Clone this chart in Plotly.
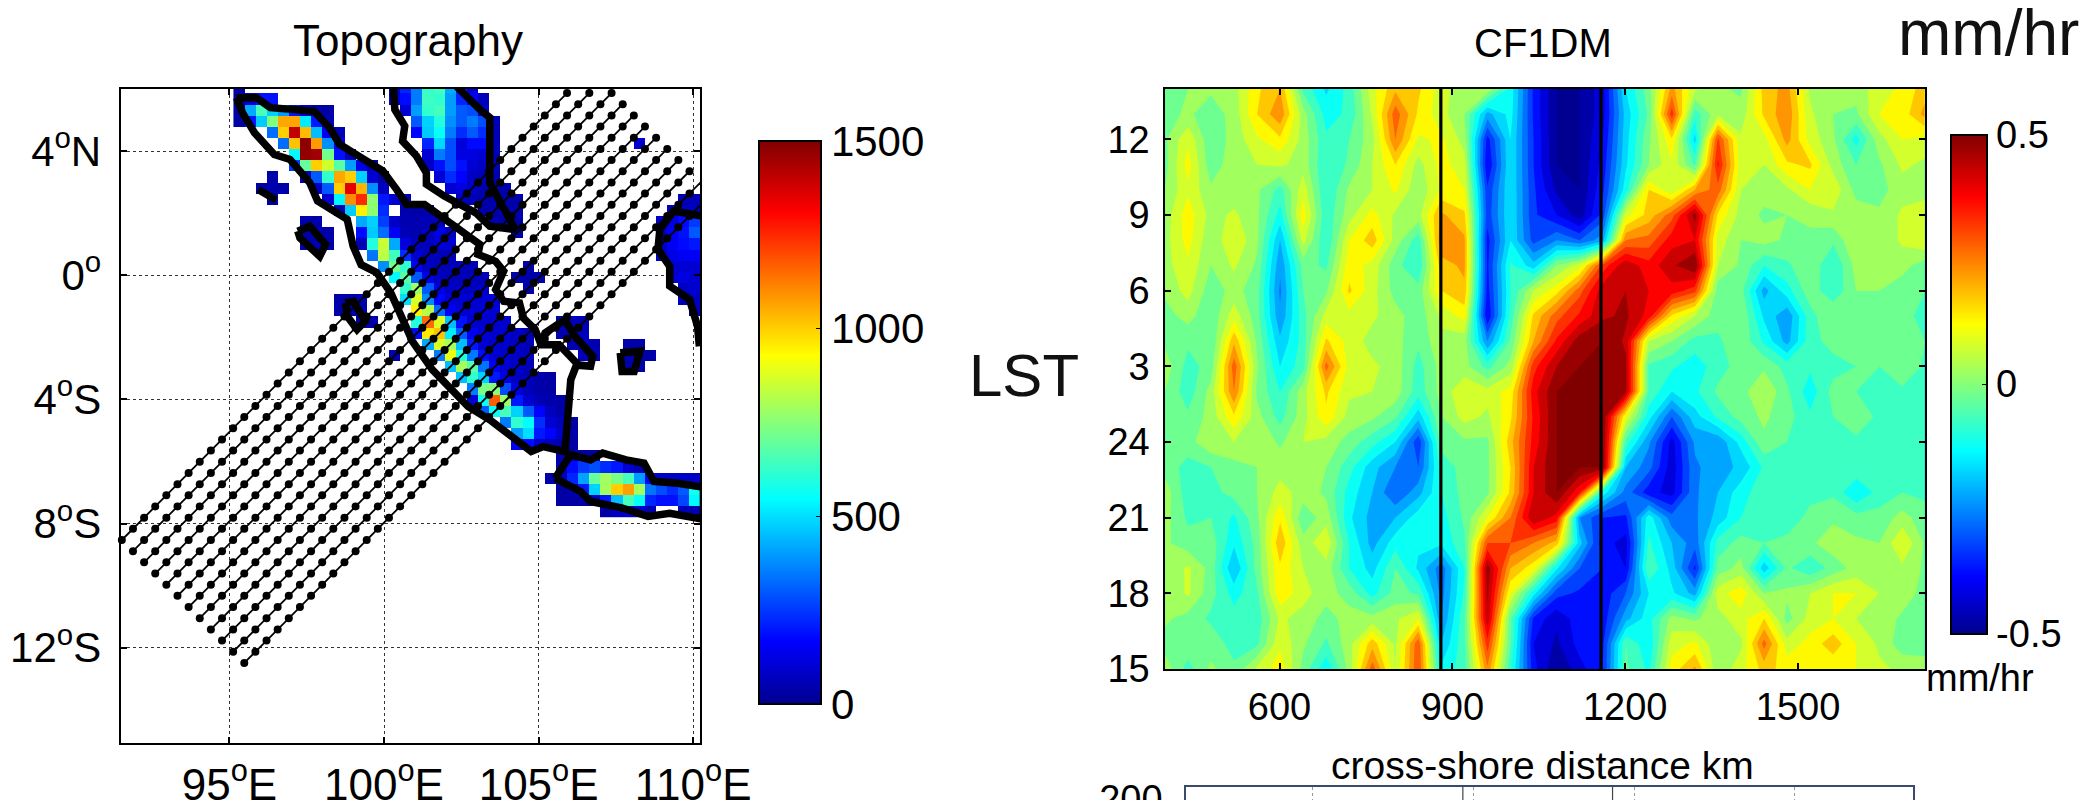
import plotly.graph_objects as go

W, H = 2091, 800
FONT = "Liberation Sans, Arial, sans-serif"

# ---------- Topography panel data ----------
TOPO_LON0, TOPO_LAT0, TOPO_STEP = 95.31, 5.68, 0.36
TOPO_NCOL, TOPO_NROW = 42, 39   # rows -1..37
# row index: list of (first column, values)  -- metres, read from colours
TOPO_CELLS = {
    -1: [(0, [30]), (14, [100, 220, 350, 620, 650, 420, 200, 100])],
    0: [(0, [30, 100, 190, 190]), (14, [100, 180, 350, 640, 620, 400, 220, 170, 60])],
    1: [(0, [30, 420, 650, 480, 400, 200, 100, 30, 30]), (15, [100, 400, 620, 650, 400, 300, 280, 100])],
    2: [(0, [30, 200, 470, 740, 1060, 1060, 520, 200, 60]), (16, [300, 480, 600, 380, 300, 350, 280, 60])],
    3: [(3, [330, 1000, 1400, 1030, 450, 150, 60]), (16, [170, 470, 560, 350, 230, 300, 230, 60])],
    4: [(4, [330, 1020, 1480, 1080, 380, 130]), (17, [220, 490, 280, 110, 180, 180, 60]), (36, [100])],
    5: [(5, [540, 1470, 1450, 720, 190, 60]), (17, [100, 350, 280, 120, 120, 100, 60])],
    6: [(5, [250, 700, 1000, 860, 680, 400, 130, 40]), (17, [80, 190, 280, 190, 100, 80, 60])],
    7: [(3, [40]), (6, [60, 300, 620, 1060, 1000, 480, 100, 30]), (18, [100, 230, 170, 80, 60, 40])],
    8: [(2, [40, 40, 40]), (7, [80, 300, 1000, 1350, 1040, 380, 70]), (19, [100, 120, 80, 50, 50, 40])],
    9: [(3, [40]), (8, [100, 540, 1100, 1250, 760, 200, 100, 50]), (20, [70, 60, 40, 40, 40, 40]), (40, [50, 60])],
    10: [(9, [50, 470, 950, 760, 230]), (15, [50, 40, 40]), (22, [40, 40, 40, 40]), (39, [60, 70, 80])],
    11: [(6, [40, 40]), (11, [420, 480, 260, 80, 50, 50, 60, 60]), (23, [50, 40, 40]), (38, [60, 120, 180, 250])],
    12: [(6, [40, 50, 40]), (11, [180, 470, 330, 150, 60, 50, 60, 130, 80]), (25, [30]), (38, [70, 150, 190, 300])],
    13: [(6, [40, 50, 40]), (11, [60, 600, 850, 420, 120, 60, 70, 100, 100]), (38, [60, 150, 180, 200])],
    14: [(12, [340, 830, 640, 230, 100, 60, 60, 60]), (38, [60, 130, 150, 150])],
    15: [(13, [380, 720, 620, 150, 70, 60, 60, 60, 60]), (26, [40]), (39, [100, 100, 100])],
    16: [(14, [540, 680, 300, 130, 70, 60, 60, 60, 60]), (25, [40, 40, 40]), (39, [100, 120, 100])],
    17: [(15, [620, 780, 300, 130, 80, 80, 80, 80]), (26, [40]), (40, [80, 100])],
    18: [(9, [40, 40, 40]), (15, [500, 870, 370, 170, 100, 100, 100, 100, 100]), (40, [60, 70])],
    19: [(9, [40, 40, 40]), (16, [950, 820, 320, 150, 100, 100, 100, 100]), (41, [60])],
    20: [(11, [40, 40]), (16, [600, 1150, 880, 450, 190, 90, 90, 90, 90]), (29, [50, 70, 50])],
    21: [(16, [180, 960, 1020, 520, 300, 150, 100, 90, 90, 80, 60]), (29, [50, 80, 60])],
    22: [(17, [420, 870, 800, 450, 200, 100, 90, 90, 80, 60]), (30, [50, 80, 50]), (35, [40, 40])],
    23: [(14, [40]), (18, [350, 900, 600, 350, 180, 100, 90, 80, 60]), (31, [60, 50]), (35, [40, 40, 40])],
    24: [(19, [450, 800, 680, 340, 150, 100, 80, 60]), (35, [40, 40])],
    25: [(20, [450, 620, 480, 200, 120, 80, 60, 40, 30])],
    26: [(21, [350, 730, 750, 280, 120, 60, 40, 30])],
    27: [(21, [100, 560, 1170, 780, 200, 100, 60, 40, 30])],
    28: [(22, [300, 560, 650, 480, 300, 170, 70, 40])],
    29: [(24, [350, 620, 550, 230, 100, 70, 30])],
    30: [(25, [400, 500, 200, 170, 90, 40])],
    31: [(25, [150, 180, 100, 60, 40, 30])],
    32: [(29, [40, 40, 30, 30])],
    33: [(29, [60, 180, 250, 280, 230, 200, 100, 60])],
    34: [(28, [40, 60, 220, 410, 700, 790, 730, 650, 400, 170, 90, 80, 80, 80])],
    35: [(29, [30, 60, 200, 480, 790, 1000, 1070, 790, 340, 280, 230, 300, 570])],
    36: [(29, [30, 30, 30, 70, 200, 450, 650, 560, 220, 190, 190, 270, 540])],
    37: [(33, [40, 80, 100, 100, 50]), (40, [60, 50])],
}

COASTS = {
    "Sumatra": (
        [95.23, 95.87, 96.32, 96.96, 97.73, 98.24, 98.56, 99.26, 99.96, 100.41, 100.73, 101.31, 101.82, 102.2, 102.72,
         103.10, 103.04, 103.61, 103.87, 103.61, 103.87, 104.38, 104.51, 104.89, 105.08, 105.66, 106.3, 106.68, 106.75, 106.17,
         105.85, 105.21, 105.08, 105.21, 105.85, 106.17, 106.75, 106.68, 106.23, 106.04, 105.98, 105.91, 105.85, 105.15, 104.76, 104.12,
         103.42, 102.72, 102.08, 101.56, 100.92, 100.54, 100.22, 99.77, 99.26, 99.00, 98.81, 97.85, 97.60, 96.96, 96.45, 95.81, 95.42, 95.23],
        [5.72, 5.72, 5.40, 5.34, 5.29, 4.75, 4.22, 3.79, 3.36, 2.76, 2.28, 2.28, 1.90, 1.63, 1.26,
         0.99, 0.67, 0.45, 0.13, -0.46, -0.84, -0.89, -1.38, -1.75, -2.24, -2.24, -2.9, -2.93, -2.61, -1.97,
         -1.43, -1.86, -2.24, -1.86, -1.43, -1.97, -2.61, -2.93, -2.88, -3.37, -4.12, -4.76, -5.68, -5.52, -5.68, -5.19,
         -4.66, -4.23, -3.58, -3.04, -2.13, -1.21, -0.57, 0.08, 0.34, 0.94, 1.80, 2.39, 2.98, 3.73, 3.89, 4.59, 5.24, 5.72],
    ),
    "Malay": (
        [100.3, 100.35, 100.67, 100.60, 101.05, 101.37, 101.37, 101.95, 102.97, 103.42, 104.25, 103.87, 103.42, 103.42, 103.1, 102.33],
        [6.1, 5.34, 4.81, 4.32, 3.84, 3.30, 2.93, 2.55, 2.01, 1.58, 1.47, 2.12, 2.98, 5.08, 5.34, 6.1],
    ),
    "Simeulue": ([95.93, 96.51, 95.93], [2.76, 2.42, 2.76]),
    "Nias": ([97.21, 97.60, 98.11, 97.92, 97.28, 97.21], [1.42, 1.58, 0.99, 0.61, 1.20, 1.42]),
    "Siberut": ([98.75, 99.01, 99.39, 99.13, 98.81, 98.75], [-0.89, -0.84, -1.48, -1.75, -1.32, -0.89]),
    "Belitung": ([107.64, 108.28, 108.09, 107.7, 107.64], [-2.5, -2.45, -3.1, -3.1, -2.5]),
    "Java": (
        [105.53, 106.04, 106.68, 107.07, 107.83, 108.41, 108.73, 109.5, 110.33, 110.33, 109.24, 108.54, 107.71, 106.68, 106.36, 105.53],
        [-6.54, -5.78, -5.95, -5.73, -5.95, -6.05, -6.64, -6.7, -6.83, -7.86, -7.67, -7.77, -7.5, -7.29, -6.97, -6.54],
    ),
    "Borneo": (
        [110.33, 109.37, 108.92, 108.86, 109.24, 109.24, 109.88, 110.14, 110.2],
        [1.9, 2.07, 1.47, 0.83, 0.29, -0.35, -0.78, -1.64, -2.29],
    ),
}

# cross-shore sample tracks: first point of each track, and number of dots in it
TRACK_START_LON = [91.52, 91.88, 92.24, 92.60, 92.96, 93.32, 93.68, 94.04, 94.40, 94.76, 95.12, 95.48]
TRACK_START_LAT = [-8.53, -8.89, -9.25, -9.61, -9.97, -10.33, -10.69, -11.05, -11.41, -11.77, -12.13, -12.49]
TRACK_DOTS = [41, 42, 43, 43, 43, 43, 43, 43, 43, 43, 43, 42]
TRACK_STEP = 0.36

LON_TICKS = [95, 100, 105, 110]
LON_LABELS = ["95<sup>o</sup>E", "100<sup>o</sup>E", "105<sup>o</sup>E", "110<sup>o</sup>E"]
LAT_TICKS = [-12, -8, -4, 0, 4]
LAT_LABELS = ["12<sup>o</sup>S", "8<sup>o</sup>S", "4<sup>o</sup>S", "0<sup>o</sup>", "4<sup>o</sup>N"]

# ---------- CF1DM panel data ----------
DIST_KM = [401, 441, 481, 521, 561, 601, 641, 681, 721, 761, 801, 841, 881, 921, 961, 1001, 1041,
           1081, 1121, 1161, 1201, 1241, 1281, 1321, 1361, 1401, 1441, 1481, 1521, 1561, 1601, 1641, 1681, 1721]
LST_HOURS = [38, 37, 36, 35, 34, 33, 32, 31, 30, 29, 28, 27, 26, 25, 24, 23, 22, 21, 20, 19, 18, 17, 16, 15]
# rain anomaly, hundredths of mm/hr; first row is the top of the panel
CF1DM_RAIN = [
    [-4, 0, 1, 3, 14, 20, -6, -16, -8, 8, 19, 16, 7, 2, 4, -12, -36, -50, -50, -42, -15, -2, 22, 6, 1, -1, 17, 22, 4, 1, 2, 8, 11, 18],
    [-2, 1, -3, 2, 15, 24, 2, -12, -9, 6, 28, 14, 7, 0, -22, -13, -36, -50, -50, -42, -18, -4, 33, -8, 4, 2, 16, 24, 6, 0, -1, 10, 12, 22],
    [-1, 9, -4, 2, 9, 14, 3, -9, -5, 3, 25, 9, 11, 3, -37, -15, -35, -50, -50, -40, -17, -1, 14, -17, 31, 6, 8, 22, 8, 1, -12, 3, 10, 8],
    [-2, 12, -3, 3, 5, 6, 3, -10, -4, 5, 15, 3, 12, 7, -40, -15, -35, -50, -50, -38, -16, 0, 9, -6, 36, 7, 5, 14, 16, 3, -5, -1, 6, 4],
    [0, 9, 1, 2, 1, -7, 8, -10, 1, 5, 11, 1, 11, 10, -34, -15, -34, -46, -50, -36, -12, 15, 6, 20, 28, 5, 2, 4, 10, 9, -2, -2, 3, 3],
    [2, 13, 3, 6, 1, -12, 13, -9, 3, 12, 4, 3, 21, 16, -33, -15, -34, -40, -48, -33, 8, 17, 28, 47, 14, 3, -1, 0, 1, 4, 3, 1, 6, 8],
    [3, 12, 1, 10, 1, -20, 7, -10, 10, 18, 3, -8, 24, 21, -37, -15, -32, -25, -30, -22, 25, 27, 38, 40, 8, 0, 2, -1, -1, -4, 5, 1, 6, 10],
    [3, 9, 0, 6, -1, -24, -3, -6, 13, 8, -3, -10, 18, 21, -36, -9, -18, 0, 8, 32, 44, 37, 44, 50, 5, -1, -10, -6, -1, -10, 2, 5, 2, -3],
    [1, 7, -3, 2, -3, -26, -5, -1, 16, 7, -2, -3, 15, 19, -37, -10, 5, 13, 28, 43, 45, 40, 38, 32, -3, -3, -22, -12, -2, -9, 0, 0, -3, -5],
    [-2, 2, -4, 8, -3, -24, -7, 7, 8, 6, 2, -3, 6, 12, -40, -8, 16, 28, 36, 44, 46, 38, 14, 5, -3, 0, -16, -24, -7, 0, -2, -4, -4, -6],
    [-1, -4, -5, 19, -1, -19, -8, 16, 8, 3, 2, -4, 4, 2, -25, -4, 20, 36, 48, 50, 44, 5, 0, -7, -6, -1, -11, -22, -7, -3, -5, -4, -5, -5],
    [3, -7, -3, 28, 1, -15, -7, 27, 8, 6, 3, -7, 2, 2, -7, 2, 33, 45, 50, 50, 46, -6, -9, -13, -7, -3, -1, -7, -9, -7, -5, -5, -1, -6],
    [0, -8, 2, 25, -1, -10, 3, 16, 6, 5, 3, -8, 2, 9, 7, 12, 38, 50, 50, 50, 46, -6, -15, -11, -4, -2, 5, -4, -13, -3, -5, -6, -6, -6],
    [-1, -4, 2, 14, 2, -7, 3, 14, 3, 1, -4, -18, 0, 7, 4, 14, 36, 50, 50, 50, 10, -13, -30, -17, -9, -3, 1, -3, -9, -5, -2, -6, -8, -6],
    [-2, -2, 4, 5, 4, -1, 5, 3, -2, -8, -15, -34, -3, -1, -1, 18, 37, 50, 50, 50, -7, -24, -42, -24, -24, -13, -1, -5, -6, -6, -6, -6, -10, -6],
    [-2, -7, -5, -2, 0, 3, 3, 0, -8, -18, -25, -30, -8, -3, -1, 15, 40, 50, 50, 50, -20, -28, -43, -26, -22, -19, -9, -7, -6, -6, -6, -6, -6, -6],
    [3, -8, -7, -3, 0, 7, 3, -1, -12, -20, -30, -22, -10, -3, -1, 16, 40, 50, 36, -12, -27, -38, -42, -26, -20, -12, -7, -7, -7, -6, -15, -8, -5, -6],
    [2, -6, -5, -11, -1, 14, -4, 3, -14, -22, -20, -12, -12, -4, 10, 25, 45, 38, -25, -35, -36, -12, -28, -26, -18, -10, -7, -9, -3, -1, -3, -3, 2, -3],
    [1, -3, -2, -14, -3, 19, 2, 9, -10, -22, -12, -14, -14, -6, 30, 30, 25, 18, -18, -38, -42, -9, -20, -28, -8, -3, -5, -3, -1, 3, 1, 0, 10, -1],
    [0, 6, -2, -20, -3, 14, 5, 3, -10, -17, -5, -16, -28, -10, 48, 20, 12, -14, -30, -35, -40, -5, -17, -36, -3, 2, -18, -4, -9, -3, 2, 4, 4, -1],
    [0, 6, -3, -12, -6, 14, 7, 2, -2, -12, -3, -6, -27, -9, 46, 10, -13, -33, -36, -38, -30, -15, -14, -22, 8, 13, 0, 1, 5, 10, 10, 5, 3, -2],
    [1, -2, -6, -8, -8, 6, 3, -2, 2, 2, 4, 10, -25, -6, 44, -4, -36, -44, -37, -38, -22, -12, 2, -1, 3, 8, 15, -2, 7, 10, 5, 3, -1, -4],
    [-2, -2, -2, -7, -6, 9, 1, -6, 3, 18, 4, 29, -20, -6, 33, -5, -40, -46, -38, -36, -5, -14, 8, 11, 1, 4, 27, 7, 12, 18, 10, 4, -3, -3],
    [3, -7, 1, -4, 6, 13, -2, -14, 2, 28, 5, 30, -14, -7, 24, -9, -38, -50, -42, -35, -4, -11, 12, 21, 1, 8, 17, 13, 10, 11, 10, 6, 4, 3],
]
COAST_MARKS_KM = [880, 1158]
SECOND_PANEL_MARKS_KM = [881, 1160]
DIST_TICKS = [600, 900, 1200, 1500]
LST_TICKS = [15, 18, 21, 24, 27, 30, 33, 36]
LST_LABELS = ["15", "18", "21", "24", "3", "6", "9", "12"]

# ---------- helpers ----------
JET = [[0, "#000090"], [0.111, "#0000ff"], [0.365, "#00ffff"], [0.619, "#ffff00"], [0.873, "#ff0000"], [1, "#800000"]]
PAGE_MARGIN = 8  # the page body's default margin shifts the plot by this many pixels


def px(x):
    return (x - PAGE_MARGIN) / W


def py(y):
    return 1 - (y - PAGE_MARGIN) / H


def dx(a, b):
    return [px(a), px(b)]


def dy(top, bottom):
    return [py(bottom), py(top)]


def label(text, x, y, size, color="black"):
    return dict(text=text, x=px(x), y=py(y), xref="paper", yref="paper", xanchor="center", yanchor="middle",
                showarrow=False, font=dict(size=size, family=FONT, color=color))


topo_lon = [TOPO_LON0 + TOPO_STEP * k for k in range(TOPO_NCOL)]
topo_lat = [TOPO_LAT0 - 0.359 * m for m in range(-1, TOPO_NROW - 1)]
topo_z = [[None] * TOPO_NCOL for _ in range(TOPO_NROW)]
for m, segments in TOPO_CELLS.items():
    for first, vals in segments:
        for i, v in enumerate(vals):
            topo_z[m + 1][first + i] = v

fig = go.Figure()

fig.add_trace(go.Heatmap(
    x=topo_lon, y=topo_lat, z=topo_z, zmin=0, zmax=1500, colorscale=JET, hoverongaps=False,
    xaxis="x", yaxis="y",
    colorbar=dict(x=px(759), xanchor="left", y=py(141), yanchor="top", lenmode="pixels", len=563,
                  thicknessmode="pixels", thickness=62, xpad=0, ypad=0, outlinewidth=2, outlinecolor="black",
                  tickvals=[0, 500, 1000, 1500], ticks="inside", ticklen=6, tickcolor="black",
                  ticklabelposition="outside", tickfont=dict(size=42, family=FONT, color="black")),
))
for name, (lons, lats) in COASTS.items():
    fig.add_trace(go.Scatter(x=lons, y=lats, mode="lines", name=name, showlegend=False,
                             line=dict(color="black", width=7.5), xaxis="x", yaxis="y"))
for lon0, lat0, count in zip(TRACK_START_LON, TRACK_START_LAT, TRACK_DOTS):
    fig.add_trace(go.Scatter(
        x=[lon0 + TRACK_STEP * i for i in range(count)],
        y=[lat0 + TRACK_STEP * i for i in range(count)],
        mode="lines+markers", showlegend=False, cliponaxis=False,
        line=dict(color="black", width=1.8), marker=dict(color="black", size=8), xaxis="x", yaxis="y"))

fig.add_trace(go.Contour(
    x=DIST_KM, y=LST_HOURS[::-1], z=[[v / 100 for v in row] for row in CF1DM_RAIN[::-1]],
    colorscale=JET, zmin=-0.5, zmax=0.5, showscale=False, autocontour=False,
    contours=dict(start=-0.5, end=0.5, size=0.05, coloring="fill", showlines=False),
    line=dict(width=0, smoothing=0), xaxis="x2", yaxis="y2",
))
fig.add_trace(go.Scatter(
    x=[None, None], y=[None, None], mode="markers", showlegend=False, xaxis="x2", yaxis="y2",
    marker=dict(color=[-0.5, 0.5], cmin=-0.5, cmax=0.5, colorscale=JET, showscale=True,
                colorbar=dict(x=px(1951), xanchor="left", y=py(134.5), yanchor="top", lenmode="pixels", len=499,
                              thicknessmode="pixels", thickness=36, xpad=0, ypad=0, outlinewidth=2, outlinecolor="black",
                              tickvals=[-0.5, 0, 0.5], ticktext=["-0.5", "0", "0.5"], ticks="inside", ticklen=6,
                              tickcolor="black", tickfont=dict(size=38, family=FONT, color="black"))),
))
for km in COAST_MARKS_KM:
    fig.add_trace(go.Scatter(x=[km, km], y=[15, 38], mode="lines", showlegend=False,
                             line=dict(color="black", width=3.2), xaxis="x2", yaxis="y2"))

for km in SECOND_PANEL_MARKS_KM:
    fig.add_trace(go.Scatter(x=[km, km], y=[191, 212], mode="lines", showlegend=False,
                             line=dict(color="#444444", width=1.2), xaxis="x3", yaxis="y3"))

tick_font = dict(size=38, family=FONT, color="black")
common = dict(showline=True, linecolor="black", linewidth=2, ticks="inside", ticklen=6, tickcolor="black",
              tickwidth=2, zeroline=False, mirror="ticks")

fig.update_layout(
    width=W, height=H, margin=dict(l=0, r=0, t=0, b=0, pad=0, autoexpand=False), autosize=False,
    paper_bgcolor="white", plot_bgcolor="white", showlegend=False, font=dict(family=FONT, color="black"),
    xaxis=dict(domain=dx(120.6, 700), range=[91.48, 110.22], tickvals=LON_TICKS, ticktext=LON_LABELS,
               tickfont=dict(size=44, family=FONT, color="black"), ticklabelstandoff=2,
               showgrid=True, gridcolor="#333333", griddash="dot", gridwidth=1, anchor="y", **common),
    yaxis=dict(domain=dy(89, 743), range=[-15.07, 6.0], tickvals=LAT_TICKS, ticktext=LAT_LABELS,
               tickfont=dict(size=42, family=FONT, color="black"), ticklabelstandoff=9,
               showgrid=True, gridcolor="#333333", griddash="dot", gridwidth=1, anchor="x", **common),
    xaxis2=dict(domain=dx(1165.3, 1924.5), range=[401.7, 1719.5], tickvals=DIST_TICKS,
                tickfont=tick_font, ticklabelstandoff=3, showgrid=False, anchor="y2", **common),
    yaxis2=dict(domain=dy(89, 669), range=[15, 38], tickvals=LST_TICKS, ticktext=LST_LABELS,
                tickfont=tick_font, ticklabelstandoff=6, showgrid=False, anchor="x2", **common),
    xaxis3=dict(domain=dx(1186, 1913), range=[365, 1720], tickvals=DIST_TICKS, showticklabels=False, side="top",
                showline=True, linecolor="#3a4a6a", linewidth=1.5, showgrid=True, gridcolor="#999999", griddash="dot",
                zeroline=False, anchor="y3"),
    yaxis3=dict(domain=dy(787, 808), range=[191, 212], tickvals=[200], ticktext=["200"], showline=True, mirror=True,
                linecolor="#3a4a6a", linewidth=1.5, showgrid=False, zeroline=False, tickfont=tick_font,
                ticklabelstandoff=14, ticklabeloverflow="allow", anchor="x3"),
    annotations=[
        label("Topography", 408, 40, 44),
        label("CF1DM", 1543, 43, 40),
        label("LST", 1024, 375, 60, "#111111"),
        label("mm/hr", 1988, 33, 64, "#111111"),
        label("mm/hr", 1980, 678, 38),
        label("cross-shore distance km", 1542, 765, 39),
    ],
)

fig.write_html("out.html")
